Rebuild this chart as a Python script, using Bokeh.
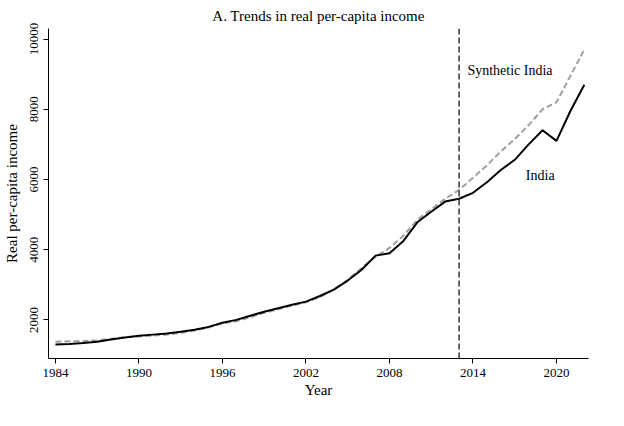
from bokeh.plotting import figure
from bokeh.models import Span, Label, Range1d, FixedTicker
from bokeh.embed import file_html
from bokeh.resources import INLINE

years = list(range(1984, 2023))
india = [1300,1310,1340,1380,1440,1500,1550,1580,1610,1660,1720,1800,1920,2000,2120,2230,2330,2430,2520,2680,
         2860,3120,3430,3830,3900,4250,4780,5080,5370,5450,5620,5920,6270,6560,7000,7400,7100,7950,8700]
synthetic = [1380,1390,1400,1420,1460,1510,1530,1550,1580,1630,1700,1790,1900,1960,2080,2200,2300,2410,2500,2650,
             2860,3140,3480,3800,4050,4400,4850,5150,5450,5700,6050,6400,6800,7150,7550,8000,8200,8950,9700]
xticks = [1984, 1990, 1996, 2002, 2008, 2014, 2020]
yticks = [2000, 4000, 6000, 8000, 10000]
FONT = "Liberation Serif"

p = figure(width=608, height=400, output_backend="svg", toolbar_location=None,
           title="A. Trends in real per-capita income", x_axis_label="Year",
           y_axis_label="Real per-capita income", min_border_right=20, min_border_left=10)
p.x_range = Range1d(1983.5, 2022.3)
p.y_range = Range1d(900, 10300)
p.title.align = "center"
p.title.text_font = FONT
p.title.text_font_size = "15px"
p.title.text_font_style = "normal"
p.title.text_color = "black"
for ax in (p.xaxis, p.yaxis):
    ax.axis_label_text_font = FONT
    ax.axis_label_text_font_size = "15px"
    ax.axis_label_text_font_style = "normal"
    ax.axis_label_text_color = "black"
    ax.major_label_text_font = FONT
    ax.major_label_text_font_size = "13px"
    ax.major_label_text_color = "black"
    ax.axis_line_color = "black"
    ax.major_tick_line_color = "black"
    ax.minor_tick_line_color = None
    ax.major_tick_out = 5
    ax.major_tick_in = 0
p.xaxis.ticker = FixedTicker(ticks=xticks)
p.yaxis.ticker = FixedTicker(ticks=yticks)
p.yaxis.major_label_orientation = "vertical"
p.yaxis.axis_label_standoff = 8
p.xaxis.axis_label_standoff = 2
p.grid.visible = False
p.outline_line_color = None

p.line(years, synthetic, line_color="#a0a0a0", line_width=2, line_dash="6 3")
p.line(years, india, line_color="black", line_width=2)
p.add_layout(Span(location=2013, dimension="height", line_color="black", line_dash="6 3", line_width=1.2))
p.add_layout(Label(x=2013.6, y=8900, text="Synthetic India", text_font=FONT, text_font_size="14px", text_color="black"))
p.add_layout(Label(x=2017.8, y=5900, text="India", text_font=FONT, text_font_size="14px", text_color="black"))

open("out.html", "w").write(file_html(p, INLINE))
